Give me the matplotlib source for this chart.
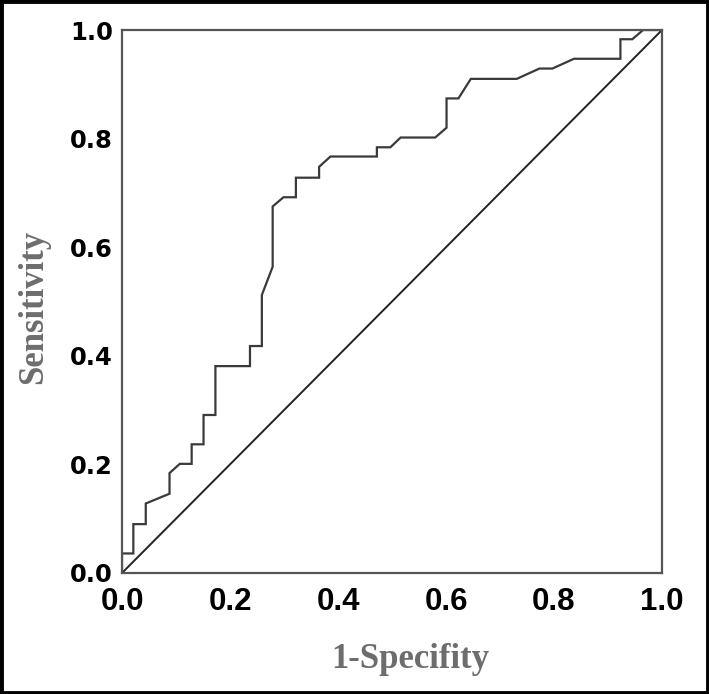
import matplotlib
matplotlib.use("Agg")
import matplotlib.pyplot as plt
from matplotlib.patches import Rectangle

# ROC curve points (1-specificity, sensitivity)
fpr = [0.000, 0.000, 0.021, 0.021, 0.044, 0.044, 0.088, 0.088, 0.107, 0.129, 0.129,
       0.151, 0.151, 0.173, 0.173, 0.237, 0.237, 0.259, 0.259, 0.279, 0.279, 0.299,
       0.322, 0.322, 0.365, 0.365, 0.386, 0.472, 0.472, 0.497, 0.516, 0.580, 0.601,
       0.601, 0.623, 0.646, 0.731, 0.773, 0.797, 0.837, 0.923, 0.923, 0.945, 0.965, 1.000]
tpr = [0.000, 0.036, 0.036, 0.090, 0.090, 0.128, 0.146, 0.184, 0.201, 0.201, 0.237,
       0.237, 0.291, 0.291, 0.381, 0.381, 0.418, 0.418, 0.512, 0.564, 0.675, 0.692,
       0.692, 0.728, 0.728, 0.748, 0.767, 0.767, 0.784, 0.784, 0.802, 0.802, 0.820,
       0.874, 0.874, 0.910, 0.910, 0.929, 0.929, 0.947, 0.947, 0.983, 0.983, 1.000, 1.000]
ref_line = [0.0, 1.0]
ticks = [0.0, 0.2, 0.4, 0.6, 0.8, 1.0]
tick_labels = ["0.0", "0.2", "0.4", "0.6", "0.8", "1.0"]

fig = plt.figure(figsize=(7.09, 6.94), dpi=100)
ax = fig.add_axes([122/709, 1 - 573/694, 540/709, 543/694])

ax.plot(fpr, tpr, color="#3a3a3a", lw=1.6, solid_joinstyle="miter")
ax.plot(ref_line, ref_line, color="#222222", lw=1.4)

ax.set_xlim(0, 1)
ax.set_ylim(0, 1)
for s in ax.spines.values():
    s.set_color("#555555")
    s.set_linewidth(1.6)

ax.set_xticks(ticks)
ax.set_yticks(ticks)
ax.tick_params(length=0)
ax.set_xticklabels(tick_labels, fontsize=22.5, fontweight="bold",
                   family=["Liberation Sans"])
ax.set_yticklabels(tick_labels, fontsize=17.5, fontweight="bold", family=["DejaVu Sans"])
ax.tick_params(axis="x", pad=10)
ax.tick_params(axis="y", pad=6.5)

fig.text(410 / 709, 1 - 659 / 694, "1-Specifity", ha="center", va="center",
         fontsize=25, fontweight="bold", color="#6d6d6d", family=["Liberation Serif"])
fig.text(34 / 709, 1 - 307 / 694, "Sensitivity", ha="center", va="center", rotation=90,
         fontsize=25, fontweight="bold", color="#6d6d6d", family=["Liberation Serif"])

fig.patches.append(Rectangle((0.002, 0.002), 0.996, 0.996, transform=fig.transFigure,
                             fill=False, edgecolor="black", lw=3.5))

fig.savefig("out.png", dpi=100)
